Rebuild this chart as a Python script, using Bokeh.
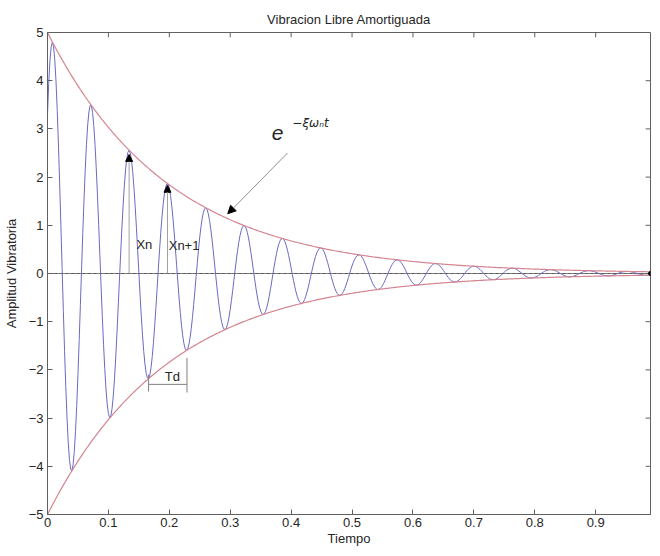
import numpy as np
from bokeh.plotting import figure
from bokeh.models import Range1d, FixedTicker, Label, Arrow, NormalHead, ColumnDataSource
from bokeh.embed import file_html
from bokeh.resources import INLINE

# ---- values ----
amplitude = 5.0          # envelope value at t = 0
initial_value = 3.3      # signal value at t = 0
zeta = 0.05              # damping ratio
omega_n = 100.0          # natural frequency (rad/s)
t_end = 0.99
t_step = 0.002
y_min, y_max = -5, 5
x_ticks = [0, 0.1, 0.2, 0.3, 0.4, 0.5, 0.6, 0.7, 0.8, 0.9]
x_tick_labels = ["0", "0.1", "0.2", "0.3", "0.4", "0.5", "0.6", "0.7", "0.8", "0.9"]
y_ticks = [-5, -4, -3, -2, -1, 0, 1, 2, 3, 4, 5]
xn_t, xn_val = 0.134, 2.47
xn1_t, xn1_val = 0.197, 1.83
td_start, td_end, td_level = 0.166, 0.229, -2.3

# ---- build the curves ----
t = np.arange(0, t_end + t_step / 2, t_step)
omega_d = omega_n * np.sqrt(1 - zeta ** 2)
phi = np.arccos(initial_value / amplitude)
env = amplitude * np.exp(-zeta * omega_n * t)
sig = env * np.cos(omega_d * t - phi)
src = ColumnDataSource(dict(t=t, sig=sig, up=env, dn=-env, zero=np.zeros_like(t)))

FONT = "Liberation Sans"
AX = "#606060"
TXT = "#262626"

p = figure(width=652, height=548, output_backend="svg", toolbar_location=None,
           x_range=Range1d(0, t_end), y_range=Range1d(y_min, y_max),
           min_border_left=43, min_border_right=2, min_border_top=32, min_border_bottom=34,
           title="Vibracion Libre Amortiguada")
p.title.align = "center"
p.title.text_font = FONT
p.title.text_font_size = "13px"
p.title.text_font_style = "normal"
p.title.text_color = TXT
p.title.standoff = 12
p.grid.visible = False
p.outline_line_color = AX
p.background_fill_color = "white"
p.border_fill_color = "white"

for ax in (p.xaxis[0], p.yaxis[0]):
    ax.major_tick_in = 5
    ax.major_tick_out = 0
    ax.minor_tick_line_color = None
    ax.axis_line_color = AX
    ax.major_tick_line_color = AX
    ax.major_label_text_font = FONT
    ax.major_label_text_font_size = "13px"
    ax.major_label_text_color = TXT
    ax.axis_label_text_font = FONT
    ax.axis_label_text_font_size = "13px"
    ax.axis_label_text_font_style = "normal"
    ax.axis_label_text_color = TXT

p.xaxis.ticker = FixedTicker(ticks=x_ticks)
p.xaxis.major_label_overrides = {tk: lb for tk, lb in zip(x_ticks, x_tick_labels)}
p.yaxis.ticker = FixedTicker(ticks=y_ticks)
p.xaxis.axis_label = "Tiempo"
p.yaxis.axis_label = "Amplitud Vibratoria"
p.xaxis.major_label_standoff = 3
p.xaxis.axis_label_standoff = 1
p.yaxis.major_label_standoff = 4
p.yaxis.axis_label_standoff = 7

# inward ticks on the top and right edges (MATLAB box style)
tick_dx = 0.008
tick_dy = 0.1
p.segment(x0=x_ticks, y0=[y_max] * len(x_ticks), x1=x_ticks, y1=[y_max - tick_dy] * len(x_ticks),
          line_color=AX, line_width=1)
p.segment(x0=[t_end] * len(y_ticks), y0=y_ticks, x1=[t_end - tick_dx] * len(y_ticks), y1=y_ticks,
          line_color=AX, line_width=1)

# curves
p.line("t", "zero", source=src, line_color="#555555", line_width=1)
p.line("t", "sig", source=src, line_color="#6a6ac4", line_width=1)
p.line("t", "up", source=src, line_color="#d4848f", line_width=1.2)
p.line("t", "dn", source=src, line_color="#d4848f", line_width=1.2)
p.scatter([t_end], [0], size=4, color="black")

# Xn / Xn+1 arrows
head = dict(size=7, fill_color="black", line_color="black")
p.add_layout(Arrow(end=NormalHead(**head), x_start=xn_t, y_start=0, x_end=xn_t, y_end=xn_val,
                   line_color="#a0a0a0", line_width=1))
p.add_layout(Arrow(end=NormalHead(**head), x_start=xn1_t, y_start=0, x_end=xn1_t, y_end=xn1_val,
                   line_color="#a0a0a0", line_width=1))
lbl = dict(text_font=FONT, text_font_size="13px", text_color=TXT, text_baseline="middle")
p.add_layout(Label(x=0.146, y=0.6, text="Xn", **lbl))
p.add_layout(Label(x=0.199, y=0.58, text="Xn+1", **lbl))

# Td bracket
p.segment(x0=[td_start, td_start, td_end], y0=[td_level, -2.1, -1.75],
          x1=[td_end, td_start, td_end], y1=[td_level, -2.45, -2.47],
          line_color="#808080", line_width=1)
p.add_layout(Label(x=0.205, y=-2.14, text="Td", text_align="center", **lbl))

# envelope arrow and equation
p.add_layout(Arrow(end=NormalHead(size=8, fill_color="black", line_color="black"),
                   x_start=0.394, y_start=2.5, x_end=0.296, y_end=1.24,
                   line_color="#909090", line_width=1))
p.add_layout(Label(x=0.368, y=2.92, text="e", text_font=FONT, text_font_size="21px",
                   text_font_style="italic", text_color=TXT, text_baseline="alphabetic"))
p.add_layout(Label(x=0.402, y=3.13, text="\u2212\u03be\u03c9\u2099t", text_font="DejaVu Sans",
                   text_font_size="12px", text_font_style="italic", text_color=TXT,
                   text_baseline="alphabetic"))

open("out.html", "w").write(file_html(p, INLINE))
